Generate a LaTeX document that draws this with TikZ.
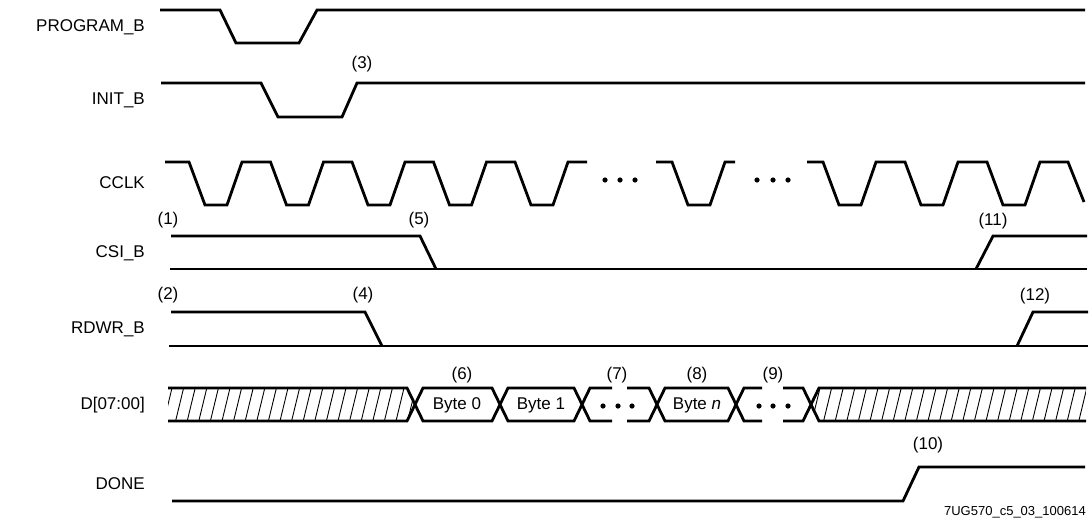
\documentclass[tikz,border=0pt]{standalone}
\usepackage{fontspec}
\setmainfont{Liberation Sans}
\begin{document}
\begin{tikzpicture}[x=1pt,y=-1pt,
  wave/.style={line width=2.8pt},
  hatchline/.style={line width=0.9pt},
  lbl/.style={anchor=east, inner sep=0pt, font=\fontsize{17}{20}\selectfont},
  ann/.style={inner sep=0pt, font=\fontsize{17}{20}\selectfont},
  dotm/.style={fill=black}]
\useasboundingbox (0,0) rectangle (1089,520);

% signal names
\node[lbl] (nprog) at (145,27) {PROGRAM\_B};
\node[lbl] (ninit) at (145,100) {INIT\_B};
\node[lbl] (ncclk) at (145,183) {CCLK};
\node[lbl] (ncsi) at (145,253) {CSI\_B};
\node[lbl] (nrdwr) at (145,329) {RDWR\_B};
\node[lbl] (nd) at (145,405) {D[07:00]};
\node[lbl] (ndone) at (145,484) {DONE};

% PROGRAM_B
\draw[wave] (160,10) -- (220,10) -- (236,43) -- (299,43) -- (317,10) -- (1085,10);

% INIT_B
\draw[wave] (161,83) -- (261,83) -- (278,117) -- (342,117) -- (357,83) -- (1085,83);
\node[ann] (a3) at (362,64) {(3)};

% CCLK
\draw[wave] (165,162)
  \foreach \f in {189,270.5,352,433.5,515} { -- (\f,162) -- ({\f+16},205) -- ({\f+38},205) -- ({\f+53},162) }
  -- (587,162);
\draw[wave] (656,162) -- (672,162) -- (688,205) -- (710,205) -- (725,162) -- (735,162);
\draw[wave] (807,162)
  \foreach \f in {823,905,987} { -- (\f,162) -- ({\f+16},205) -- ({\f+38},205) -- ({\f+53},162) }
  -- (1068,162) -- (1084,202);
\foreach \x in {605,620,635,757,773,788} \fill[dotm] (\x,180) circle (2.6pt);

% CSI_B
\draw[wave] (171,236) -- (420,236) -- (436,269);
\draw[wave] (170,269) -- (1087,269);
\draw[wave] (976,269) -- (993,236) -- (1087,236);
\node[ann] (a1) at (168,220) {(1)};
\node[ann] (a5) at (419,220) {(5)};
\node[ann] (a11) at (993,221) {(11)};

% RDWR_B
\draw[wave] (171,312) -- (365,312) -- (382,346);
\draw[wave] (169,346) -- (1088,346);
\draw[wave] (1017,346) -- (1033,312) -- (1088,312);
\node[ann] (a2) at (168,295) {(2)};
\node[ann] (a4) at (363,295) {(4)};
\node[ann] (a12) at (1035,296) {(12)};

% D[07:00] hatching
\begin{scope}
\clip (168,388) -- (407,388) -- (415,404.5) -- (407,421) -- (168,421) -- cycle;
\foreach \i in {0,...,22} \draw[hatchline] ({164+\i*11.6},421) -- ({172+\i*11.6},388);
\end{scope}
\begin{scope}
\clip (811,404.5) -- (819,388) -- (1086,388) -- (1086,421) -- (819,421) -- cycle;
\foreach \i in {0,...,24} \draw[hatchline] ({812+\i*11.6},421) -- ({820+\i*11.6},388);
\end{scope}
% D bus outline
\draw[wave] (168,388) -- (407,388) -- (423,421) -- (492,421) -- (508,388) -- (574,388) -- (590,421) -- (612,421);
\draw[wave] (168,421) -- (407,421) -- (423,388) -- (492,388) -- (508,421) -- (574,421) -- (590,388) -- (612,388);
\draw[wave] (627,388) -- (649,388) -- (665,421) -- (728,421) -- (744,388) -- (762,388);
\draw[wave] (627,421) -- (649,421) -- (665,388) -- (728,388) -- (744,421) -- (762,421);
\draw[wave] (783,388) -- (803,388) -- (819,421) -- (1086,421);
\draw[wave] (783,421) -- (803,421) -- (819,388) -- (1086,388);
\node[ann] (b0) at (457,405) {Byte 0};
\node[ann] (b1) at (541,405) {Byte 1};
\node[ann] (bn) at (697,405) {Byte \textit{n}};
\foreach \x in {603,618,632,759,773,788} \fill[dotm] (\x,406) circle (2.6pt);
\node[ann] (a6) at (462,375) {(6)};
\node[ann] (a7) at (617,375) {(7)};
\node[ann] (a8) at (697,375) {(8)};
\node[ann] (a9) at (773,375) {(9)};

% DONE
\draw[wave] (172,501) -- (903,501) -- (919,467) -- (1085,467);
\node[ann] (a10) at (928,445) {(10)};

% figure id
\node[anchor=east, inner sep=0pt, font=\fontsize{13}{15}\selectfont] (fid) at (1086,512) {7UG570\_c5\_03\_100614};
\end{tikzpicture}
\end{document}
